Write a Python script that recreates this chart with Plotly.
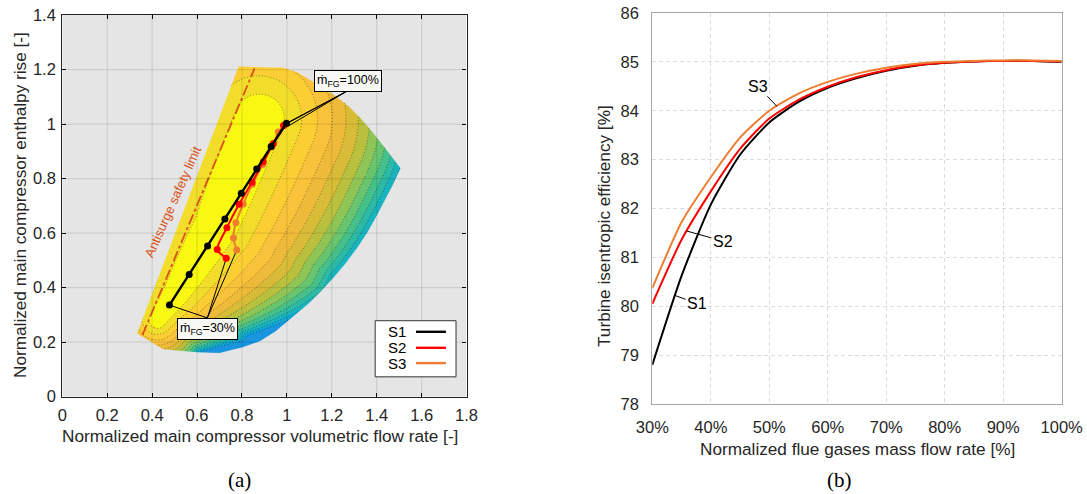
import numpy as np
import plotly.graph_objects as go

FIG_W, FIG_H = 1087, 494
FONT = "Liberation Sans, Arial, sans-serif"
SERIF = "Liberation Serif, Times New Roman, serif"

# ---------------- panel (a): operating lines on the main-compressor map ----------------
flow_ticks = [0, 0.2, 0.4, 0.6, 0.8, 1.0, 1.2, 1.4, 1.6, 1.8]
rise_ticks = [0, 0.2, 0.4, 0.6, 0.8, 1.0, 1.2, 1.4]

series_names = ["S1", "S2", "S3"]
s1_flow = [0.477, 0.565, 0.647, 0.724, 0.797, 0.866, 0.930, 0.998]
s1_rise = [0.336, 0.448, 0.553, 0.652, 0.746, 0.835, 0.918, 1.003]
s2_flow = [0.730, 0.690, 0.733, 0.787, 0.845, 0.895, 0.940, 0.985]
s2_rise = [0.508, 0.540, 0.620, 0.706, 0.787, 0.862, 0.929, 0.995]
s3_flow = [0.777, 0.762, 0.773, 0.806, 0.846, 0.892, 0.933, 0.962]
s3_rise = [0.538, 0.582, 0.638, 0.707, 0.779, 0.852, 0.917, 0.971]

# map boundary, clockwise from the lower-left corner
map_edge_flow = [0.333, 0.785, 0.985, 1.050, 1.104, 1.160, 1.216, 1.275, 1.327, 1.380,
                 1.430, 1.506, 1.470, 1.432, 1.395, 1.358, 1.310, 1.260, 1.205, 1.150,
                 1.098, 1.045, 0.995, 0.950, 0.881, 0.800, 0.748, 0.700, 0.600, 0.449]
map_edge_rise = [0.232, 1.211, 1.207, 1.188, 1.162, 1.134, 1.103, 1.065, 1.022, 0.972,
                 0.920, 0.838, 0.775, 0.713, 0.656, 0.602, 0.543, 0.488, 0.434, 0.385,
                 0.343, 0.306, 0.270, 0.240, 0.204, 0.180, 0.170, 0.160, 0.163, 0.174]

# crest of the efficiency surface (peak efficiency path)
ridge_flow = [0.43, 0.52, 0.70, 0.895]
ridge_rise = [0.28, 0.38, 0.62, 1.01]
# efficiency fall-off away from the crest (screen px): band width and growth exponent on
# each side, steepening towards the choke edge and narrowing of the bands at low flow
crest_width_left = 30.0
crest_width_right = 21.0
exponent_left = 1.4
exponent_right = 1.15
choke_distance = 149.0
choke_gain = 3.0
choke_exponent = 5.5
low_flow_narrowing = 1.9
low_flow_length = 0.2
level_count = 13

antisurge_flow = [0.357, 0.856]
antisurge_rise = [0.226, 1.204]

label_30_anchor = (0.646, 0.289)
label_100_anchor = (1.262, 1.118)

# ---------------- panel (b): turbine efficiency ----------------
fg_pct = [30, 35, 40, 45, 50, 55, 60, 65, 70, 75, 80, 85, 90, 95, 100]
eff_s1 = [78.80, 80.62, 82.08, 83.10, 83.76, 84.18, 84.47, 84.67, 84.82, 84.92, 84.98, 85.01, 85.02, 85.02, 85.00]
eff_s2 = [80.05, 81.36, 82.35, 83.22, 83.84, 84.22, 84.49, 84.69, 84.83, 84.93, 84.98, 85.01, 85.02, 85.02, 85.01]
eff_s3 = [80.37, 81.72, 82.64, 83.45, 84.00, 84.35, 84.59, 84.76, 84.88, 84.96, 85.00, 85.02, 85.03, 85.03, 85.02]
eff_ticks = [78, 79, 80, 81, 82, 83, 84, 85, 86]
pct_ticks = [30, 40, 50, 60, 70, 80, 90, 100]

# ---------------- styles ----------------
colors = {"S1": "#000000", "S2": "#ff0000", "S3": "#ee7d31"}
band_colors = ["#f8f812", "#f2de2a", "#fbcf34", "#f8c23b", "#eeba39", "#d8bc38", "#b8c03e",
               "#8fc456", "#68c46e", "#46c08b", "#2cbaa7", "#19b3c0", "#10a7d3", "#1895dd"]
BG_A = "#e5e5e5"
ANTISURGE = "#d95319"

DOM_AX = [0.0573, 0.4292]
DOM_AY = [0.1970, 0.9696]
DOM_BX = [0.6001, 0.9767]
DOM_BY = [0.1822, 0.9737]
RANGE_AX = [0, 1.8]
RANGE_AY = [0, 1.4]

# screen scale of panel (a), used to build the map in pixel-isotropic space
SX = (DOM_AX[1] - DOM_AX[0]) * FIG_W / (RANGE_AX[1] - RANGE_AX[0])
SY = (DOM_AY[1] - DOM_AY[0]) * FIG_H / (RANGE_AY[1] - RANGE_AY[0])


def efficiency_levels(gx, gy):
    """Efficiency drop (in contour levels) away from the crest of the map."""
    X, Y = gx * SX, gy * SY
    rx, ry = np.array(ridge_flow) * SX, np.array(ridge_rise) * SY
    seg = np.hypot(np.diff(rx), np.diff(ry))
    total = seg.sum()
    best_d = np.full(X.shape, np.inf)
    best_c = np.zeros(X.shape)
    best_s = np.zeros(X.shape)
    start = 0.0
    for i in range(len(rx) - 1):
        ux, uy = (rx[i + 1] - rx[i]) / seg[i], (ry[i + 1] - ry[i]) / seg[i]
        t = (X - rx[i]) * ux + (Y - ry[i]) * uy
        tc = np.clip(t, 0, seg[i])
        d = np.hypot(X - (rx[i] + tc * ux), Y - (ry[i] + tc * uy))
        c = (X - rx[i]) * uy - (Y - ry[i]) * ux
        take = d < best_d
        best_d = np.where(take, d, best_d)
        best_c = np.where(take, c, best_c)
        best_s = np.where(take, start + tc, best_s)
        start += seg[i]
    # w: 0 on the surge side of the crest, 1 on the choke side
    w = 0.5 * (1 + np.clip(best_c / np.maximum(best_d, 1e-6), -1, 1))
    width = crest_width_left * (1 - w) + crest_width_right * w
    expo = exponent_left * (1 - w) + exponent_right * w
    squeeze = 1 + low_flow_narrowing * np.exp(-np.clip(best_s / total, 0, 1) / low_flow_length)
    n_eff = best_d * squeeze
    q = (n_eff / width) ** expo + w * choke_gain * (n_eff / choke_distance) ** choke_exponent
    return np.clip(q, 0, 20)


gx = np.linspace(0.30, 1.56, 300)
gy = np.linspace(0.12, 1.25, 290)
GX, GY = np.meshgrid(gx, gy)
Z = np.round(efficiency_levels(GX, GY), 3)

fig = go.Figure()

band_scale = [[i / (len(band_colors) - 1), c] for i, c in enumerate(band_colors)]
fig.add_trace(go.Contour(
    x=gx, y=gy, z=Z, xaxis="x", yaxis="y",
    colorscale=band_scale, showscale=False, hoverinfo="skip",
    contours=dict(start=1, end=level_count, size=1, coloring="fill", showlines=True),
    line=dict(color="rgba(20,20,20,0.65)", width=0.7, dash="1px,2px", smoothing=1),
))

# background outside the map boundary
mask_x = [RANGE_AX[0], RANGE_AX[1], RANGE_AX[1], RANGE_AX[0], RANGE_AX[0]] + map_edge_flow + [map_edge_flow[0], RANGE_AX[0]]
mask_y = [RANGE_AY[0], RANGE_AY[0], RANGE_AY[1], RANGE_AY[1], RANGE_AY[0]] + map_edge_rise + [map_edge_rise[0], RANGE_AY[0]]
fig.add_trace(go.Scatter(
    x=mask_x, y=mask_y, xaxis="x", yaxis="y", mode="lines", fill="toself",
    fillcolor=BG_A, line=dict(width=0, color=BG_A), hoverinfo="skip", showlegend=False,
))

fig.add_trace(go.Scatter(
    x=antisurge_flow, y=antisurge_rise, xaxis="x", yaxis="y", mode="lines",
    line=dict(color=ANTISURGE, width=1.8, dash="11px,3px,3px,3px"), hoverinfo="skip", showlegend=False,
))

series_a = {"S1": (s1_flow, s1_rise), "S2": (s2_flow, s2_rise), "S3": (s3_flow, s3_rise)}

# leader lines from the two labels to the first/last operating points
lead_x, lead_y = [], []
for name in series_names:
    fx, fy = series_a[name]
    lead_x += [label_30_anchor[0], fx[0], None, label_100_anchor[0], fx[-1], None]
    lead_y += [label_30_anchor[1], fy[0], None, label_100_anchor[1], fy[-1], None]
fig.add_trace(go.Scatter(
    x=lead_x, y=lead_y, xaxis="x", yaxis="y", mode="lines",
    line=dict(color="black", width=1), hoverinfo="skip", showlegend=False,
))

for name in ["S3", "S2", "S1"]:
    fx, fy = series_a[name]
    fig.add_trace(go.Scatter(
        x=fx, y=fy, xaxis="x", yaxis="y", mode="lines+markers", name=name,
        line=dict(color=colors[name], width=2.4 if name == "S1" else 2.0,
                  shape="linear" if name == "S1" else "spline", smoothing=0.7),
        marker=dict(color=colors[name], size=7), showlegend=False,
    ))

# ---------------- panel (b) traces ----------------
series_b = {"S1": eff_s1, "S2": eff_s2, "S3": eff_s3}
for name in ["S1", "S2", "S3"]:
    fig.add_trace(go.Scatter(
        x=fg_pct, y=series_b[name], xaxis="x2", yaxis="y2", mode="lines", name=name,
        line=dict(color=colors[name], width=2.0, shape="spline", smoothing=0.6),
        showlegend=False, hoverinfo="skip",
    ))

shapes = []
# panel (a) grid drawn over the map
for v in flow_ticks[1:-1]:
    shapes.append(dict(type="line", xref="x", yref="y", x0=v, x1=v, y0=RANGE_AY[0], y1=RANGE_AY[1],
                       line=dict(color="rgba(0,0,0,0.10)", width=1.2), layer="above"))
for v in rise_ticks[1:-1]:
    shapes.append(dict(type="line", xref="x", yref="y", x0=RANGE_AX[0], x1=RANGE_AX[1], y0=v, y1=v,
                       line=dict(color="rgba(0,0,0,0.10)", width=1.2), layer="above"))

# panel (a) legend box
shapes.append(dict(type="rect", xref="x domain", yref="y domain", x0=0.774, x1=0.974, y0=0.052, y1=0.199,
                   fillcolor="white", line=dict(color="#333333", width=1), layer="above"))
annotations = []
legend_rows = [0.170, 0.128, 0.088]
for name, ry_ in zip(series_names, legend_rows):
    shapes.append(dict(type="line", xref="x domain", yref="y domain", x0=0.875, x1=0.949, y0=ry_, y1=ry_,
                       line=dict(color=colors[name], width=2.4), layer="above"))
    annotations.append(dict(xref="x domain", yref="y domain", x=0.829, y=ry_, text=name, showarrow=False,
                            font=dict(family=FONT, size=15, color="black"), xanchor="center", yanchor="middle"))

# operating point labels
box_style = dict(showarrow=False, bgcolor="#f8f8f4", bordercolor="black", borderwidth=1, borderpad=2,
                 font=dict(family=FONT, size=12.5, color="black"), xref="x", yref="y",
                 xanchor="center", yanchor="middle")
annotations.append(dict(x=1.27, y=1.158, text="ṁ<sub>FG</sub>=100%", **box_style))
annotations.append(dict(x=0.646, y=0.250, text="ṁ<sub>FG</sub>=30%", **box_style))

annotations.append(dict(x=0.494, y=0.715, xref="x", yref="y", text="Antisurge safety limit", showarrow=False,
                        textangle=-66, xanchor="center", yanchor="middle",
                        font=dict(family=FONT, size=13, color=ANTISURGE)))

# panel (b) curve labels
for name, px_, dx, dy in [("S3", 51.3, -19, -20), ("S2", 35.9, 36, 10), ("S1", 33.9, 22, 8)]:
    annotations.append(dict(x=px_, y=float(np.interp(px_, fg_pct, series_b[name])), xref="x2", yref="y2",
                            text=name, showarrow=True, arrowhead=0, arrowwidth=1, arrowcolor="black",
                            ax=dx, ay=dy, standoff=0, font=dict(family=FONT, size=16, color="black")))

# axis titles and panel captions
title_font = dict(family=FONT, size=17.2, color="#262626")
centered = dict(xref="paper", yref="paper", showarrow=False, xanchor="center", yanchor="middle")
annotations += [
    dict(x=260 / FIG_W, y=1 - 436 / FIG_H, text="Normalized main compressor volumetric flow rate [-]",
         font=title_font, **centered),
    dict(x=20 / FIG_W, y=1 - 205 / FIG_H, textangle=-90, text="Normalized main compressor enthalpy rise [-]",
         font=title_font, **centered),
    dict(x=857 / FIG_W, y=1 - 449 / FIG_H, text="Normalized flue gases mass flow rate [%]",
         font=title_font, **centered),
    dict(x=604 / FIG_W, y=1 - 226 / FIG_H, textangle=-90, text="Turbine isentropic efficiency [%]",
         font=title_font, **centered),
    dict(x=239 / FIG_W, y=1 - 480 / FIG_H, text="(a)", font=dict(family=SERIF, size=21, color="black"), **centered),
    dict(x=839 / FIG_W, y=1 - 480 / FIG_H, text="(b)", font=dict(family=SERIF, size=21, color="black"), **centered),
]

tick_font_a = dict(family=FONT, size=16.5, color="#262626")
tick_font_b = dict(family=FONT, size=16.5, color="#262626")
axis_a = dict(ticks="inside", ticklen=4, tickcolor="black", showline=True, linecolor="#222222", linewidth=1.2,
              mirror="ticks", showgrid=False, zeroline=False, tickfont=tick_font_a, automargin=False)
axis_b = dict(ticks="", showline=True, linecolor="#a6a6a6", linewidth=1.3, mirror=True, showgrid=True,
              gridcolor="#dcdcdc", griddash="4px,3px", gridwidth=1, zeroline=False, tickfont=tick_font_b,
              automargin=False)

fig.update_layout(
    width=FIG_W, height=FIG_H, margin=dict(l=0, r=0, t=0, b=0),
    paper_bgcolor="white", plot_bgcolor="white", showlegend=False,
    xaxis=dict(domain=DOM_AX, range=RANGE_AX, tickvals=flow_ticks, anchor="y", ticklabelstandoff=3, **axis_a),
    yaxis=dict(domain=DOM_AY, range=RANGE_AY, tickvals=rise_ticks, anchor="x", ticklabelstandoff=2, **axis_a),
    xaxis2=dict(domain=DOM_BX, range=[30, 100], tickvals=pct_ticks, ticktext=[f"{v}%" for v in pct_ticks],
                anchor="y2", ticklabelstandoff=8, **axis_b),
    yaxis2=dict(domain=DOM_BY, range=[78, 86], tickvals=eff_ticks, anchor="x2", ticklabelstandoff=9, **axis_b),
    shapes=shapes, annotations=annotations,
)

fig.write_html("out.html")
